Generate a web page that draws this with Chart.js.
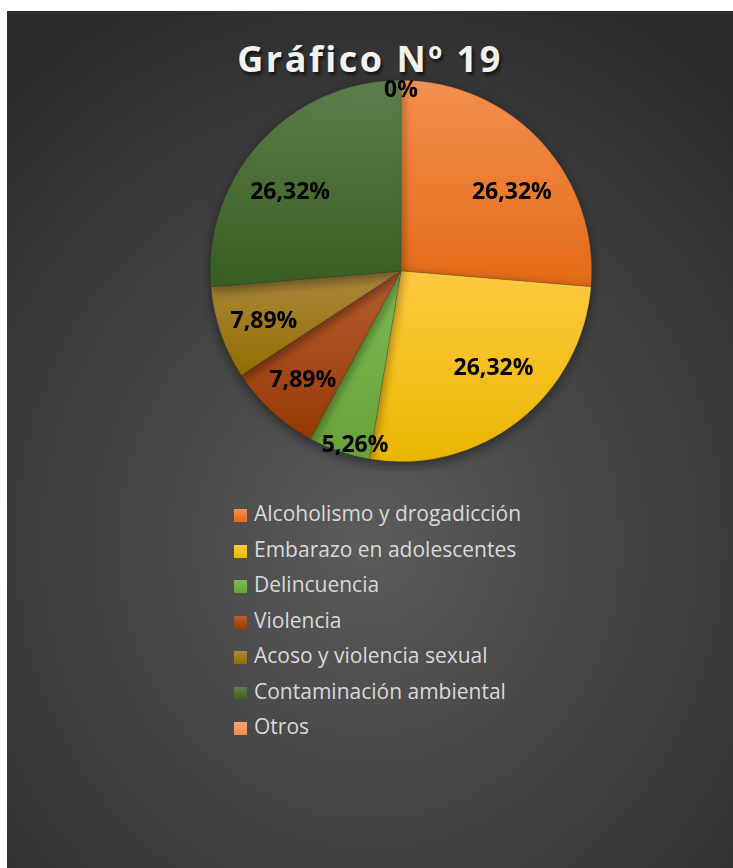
<!DOCTYPE html>
<html>
<head>
<meta charset="utf-8">
<script src="https://cdn.jsdelivr.net/npm/chart.js@4"></script>
<style>
  body { margin: 0; background: #fff; }
  #panel {
    position: absolute; left: 7px; top: 11px; width: 726px; height: 857px;
    background: radial-gradient(ellipse 75% 70% at 50% 62%, #5b5b5b 0%, #454545 45%, #2b2b2b 100%);
    overflow: hidden;
  }
  #title {
    position: absolute; left: 0; width: 100%; top: 23px; text-align: center;
    font-family: "Open Sans", sans-serif; font-weight: bold; font-size: 36px;
    letter-spacing: 2.5px; color: #f2f2f2;
    text-shadow: 2px 3px 3px rgba(0,0,0,0.6);
  }
  #wrap { position: absolute; left: 194px; top: 60px; width: 400px; height: 400px; }
  #legend {
    position: absolute; left: 227px; top: 487px;
    font-family: "Open Sans", sans-serif; font-size: 21px; color: #d9d9d9;
  }
  #legend div { height: 35.5px; line-height: 30px; white-space: nowrap; }
  #legend span.box {
    display: inline-block; width: 13px; height: 13px; margin-right: 7px; vertical-align: -1px;
  }
</style>
</head>
<body>
<div id="panel">
  <div id="title">Gráfico Nº 19</div>
  <div id="wrap"><canvas id="pie"></canvas></div>
  <div id="legend"></div>
</div>
<script>
const categories = ['Alcoholismo y drogadicción', 'Embarazo en adolescentes', 'Delincuencia',
  'Violencia', 'Acoso y violencia sexual', 'Contaminación ambiental', 'Otros'];
const percentages = [26.32, 26.32, 5.26, 7.89, 7.89, 26.32, 0];
// top / bottom of each slice gradient
const topColors = ['#f4914f', '#ffca40', '#7dba52', '#b65c30', '#ac883f', '#5c7e4c', '#f6a570'];
const bottomColors = ['#e36a16', '#eab600', '#67a23a', '#963a04', '#926e00', '#395e21', '#f08a4c'];

// per-slice vertical gradients, from the arc's own extent
const sliceGradients = {
  id: 'sliceGradients',
  beforeDatasetsDraw(chart) {
    const ctx = chart.ctx;
    chart.getDatasetMeta(0).data.forEach((arc, i) => {
      const p = arc.getProps(['x', 'y', 'startAngle', 'endAngle', 'outerRadius']);
      let ys = [p.y, p.y + Math.sin(p.startAngle) * p.outerRadius, p.y + Math.sin(p.endAngle) * p.outerRadius];
      [-Math.PI / 2, Math.PI / 2, 1.5 * Math.PI].forEach(a => {
        if (a >= p.startAngle && a <= p.endAngle) ys.push(p.y + Math.sin(a) * p.outerRadius);
      });
      const y0 = Math.min(...ys), y1 = Math.max(...ys);
      const g = ctx.createLinearGradient(0, y0, 0, Math.max(y1, y0 + 1));
      g.addColorStop(0, topColors[i]);
      g.addColorStop(1, bottomColors[i]);
      arc.options.backgroundColor = g;
    });
    ctx.save();
    ctx.shadowColor = 'rgba(0,0,0,0.45)';
    ctx.shadowBlur = 12;
    ctx.shadowOffsetY = 4;
  },
  afterDatasetsDraw(chart) {
    chart.ctx.restore();
  }
};

// labels sit a bit wider than tall, like the spreadsheet's best fit
const pctLabels = {
  id: 'pctLabels',
  afterDatasetsDraw(chart) {
    const ctx = chart.ctx;
    ctx.save();
    ctx.font = 'bold 23px "Open Sans", sans-serif';
    ctx.fillStyle = '#000';
    ctx.textAlign = 'center';
    ctx.textBaseline = 'middle';
    chart.getDatasetMeta(0).data.forEach((arc, i) => {
      const v = percentages[i];
      const p = arc.getProps(['x', 'y', 'startAngle', 'endAngle', 'outerRadius']);
      const mid = (p.startAngle + p.endAngle) / 2;
      let fx = 0.79, fy = 0.63;
      if (v < 1) { fx = 0.96; fy = 0.96; }
      else if (v < 6) { fx = 0.74; fy = 0.95; }
      else if (v < 10) { fx = 0.76; fy = 0.76; }
      const txt = v === 0 ? '0%' : v.toFixed(2).replace('.', ',') + '%';
      ctx.fillText(txt, p.x + Math.cos(mid) * p.outerRadius * fx, p.y + Math.sin(mid) * p.outerRadius * fy + 3);
    });
    ctx.restore();
  }
};

new Chart(document.getElementById('pie'), {
  type: 'pie',
  data: {
    labels: categories,
    datasets: [{
      data: percentages,
      backgroundColor: topColors.slice(),
      borderColor: 'rgba(60,60,60,0.35)',
      borderWidth: 0.6
    }]
  },
  options: {
    responsive: true,
    maintainAspectRatio: false,
    animation: false,
    layout: { padding: 9 },
    plugins: {
      legend: { display: false },
      tooltip: { enabled: false }
    }
  },
  plugins: [sliceGradients, pctLabels]
});

const legend = document.getElementById('legend');
categories.forEach((c, i) => {
  const row = document.createElement('div');
  const box = document.createElement('span');
  box.className = 'box';
  box.style.background = 'linear-gradient(' + topColors[i] + ',' + bottomColors[i] + ')';
  row.appendChild(box);
  row.appendChild(document.createTextNode(c));
  legend.appendChild(row);
});
</script>
</body>
</html>
